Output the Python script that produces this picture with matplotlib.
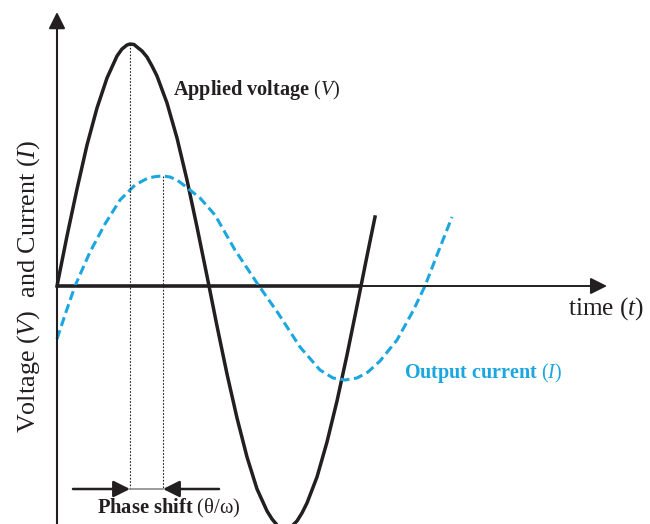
import numpy as np
import matplotlib.pyplot as plt

plt.rcParams['mathtext.fontset'] = 'custom'
plt.rcParams['mathtext.rm'] = 'Liberation Serif'
plt.rcParams['mathtext.it'] = 'Liberation Serif:italic'
plt.rcParams['mathtext.bf'] = 'Liberation Serif:bold'
plt.rcParams['font.family'] = 'Liberation Serif'

# readings off the schematic: time from origin, amplitude (arbitrary units)
volt_t = [0, 10, 20, 30, 40, 50, 60, 65, 70, 73, 77, 80, 85, 90, 95, 100, 110, 120, 130, 140, 150,
          160, 170, 180, 190, 200, 210, 215, 220, 225, 230, 235, 240, 245, 250, 260, 270, 280,
          290, 300, 310, 318]
volt_v = [0, 50, 97, 141, 178, 208, 230, 237, 241, 242, 241.5, 239, 235, 229, 220, 210, 183, 148,
          106, 59, 10, -40, -88, -132, -171, -203, -225, -233, -239, -241, -242, -240, -235, -227,
          -217, -191, -156, -115, -69, -20, 30, 69]

curr_t = [0, 9, 18, 33, 48, 63, 78, 91, 99, 106, 113, 120, 128, 143, 158, 178, 202, 221, 243,
          263, 276, 288, 300, 311, 323, 340, 356, 368, 380, 395]
curr_v = [-53, -26, 0, 34, 62, 86, 101, 108, 109.5, 110, 109, 106, 100, 88, 71, 36, 0, -27, -61,
          -84, -92, -94, -92, -86, -75, -54, -25, 0, 31, 69]

period_end = 304      # where the voltage trace comes back to zero
t_max, v_max = 550, 274
line_col = '#231f20'
blue = '#1ba6df'

fig = plt.figure(figsize=(6.5, 5.24), dpi=100)
ax = fig.add_axes([0, 0, 1, 1])
ax.set_xlim(-57, 593)
ax.set_ylim(-238, 286)
ax.axis('off')

head = '-|>,head_length=1.0,head_width=0.5'
# axes with arrow heads
ax.annotate('', xy=(0, v_max), xytext=(0, -238),
            arrowprops=dict(arrowstyle=head, lw=1.5, color=line_col, shrinkA=0, shrinkB=0))
ax.annotate('', xy=(t_max, 0), xytext=(0, 0),
            arrowprops=dict(arrowstyle=head, lw=1.4, color=line_col, shrinkA=0, shrinkB=0))
ax.plot([0, period_end], [0, 0], color=line_col, lw=2.6, solid_capstyle='butt')

# curves
ax.plot(volt_t, volt_v, color=line_col, lw=2.5, solid_joinstyle='round')
ax.plot(curr_t, curr_v, color=blue, lw=2.2, dashes=(3.0, 1.5))

# peaks and phase shift marker
vp = int(np.argmax(volt_v))
cp = int(np.argmax(curr_v))
y_arr = -203
ax.plot([volt_t[vp]] * 2, [volt_v[vp], y_arr], color=line_col, lw=0.8, ls=(0, (1.5, 1.5)))
ax.plot([curr_t[cp]] * 2, [curr_v[cp], y_arr], color=line_col, lw=0.8, ls=(0, (1.5, 1.5)))
ax.plot([volt_t[vp], curr_t[cp]], [y_arr, y_arr], color='#8a8a8a', lw=1.2)
ax.annotate('', xy=(volt_t[vp], y_arr), xytext=(16, y_arr),
            arrowprops=dict(arrowstyle=head, lw=1.8, color=line_col, shrinkA=0, shrinkB=0))
ax.annotate('', xy=(curr_t[cp], y_arr), xytext=(162, y_arr),
            arrowprops=dict(arrowstyle=head, lw=1.8, color=line_col, shrinkA=0, shrinkB=0))

# labels
ax.text(116, 191, r'$\mathbf{Applied\ voltage}\ \mathit{(V)}$', fontsize=14.6,
        color=line_col, va='baseline', ha='left')
ax.text(347, -92, r'$\mathbf{Output\ current}\ \mathit{(I)}$', fontsize=14.5,
        color=blue, va='baseline', ha='left')
ax.text(511, -29, r'time $\mathit{(t)}$', fontsize=18.3, color=line_col,
        va='baseline', ha='left')
ax.text(40, -227, r'$\mathbf{Phase\ shift}\ \mathit{(}\mathrm{θ/ω}\mathit{)}$', fontsize=14.8,
        color=line_col, va='baseline', ha='left')
ax.text(-22, -147, r'Voltage $\mathit{(V)}$  and Current $\mathit{(I)}$', fontsize=18.8,
        color=line_col, rotation=90, rotation_mode='anchor', ha='left', va='baseline')

fig.savefig('out.png', dpi=100)
